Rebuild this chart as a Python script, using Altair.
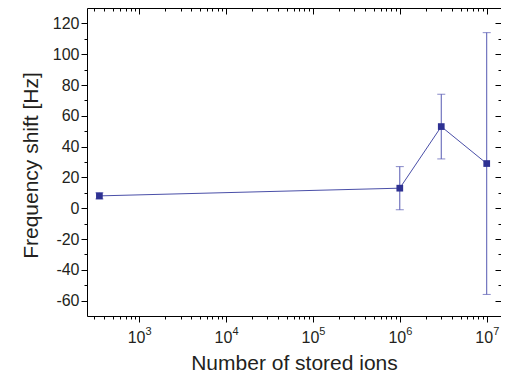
import altair as alt
import pandas as pd

# ---- data ----
ions = [350, 1.0e6, 3.0e6, 1.0e7]
shift = [8, 13, 53, 29]
err = [2, 14, 21, 85]

x_major = [1e3, 1e4, 1e5, 1e6, 1e7]
x_minor = [m * 10 ** k for k in range(2, 7) for m in range(2, 10) if 250 <= m * 10 ** k <= 1.46e7]
y_major = list(range(-60, 121, 20))
y_minor = list(range(-60, 121, 10))

df = pd.DataFrame({
    "n": ions,
    "f": shift,
    "lo": [s - e for s, e in zip(shift, err)],
    "hi": [s + e for s, e in zip(shift, err)],
})

FONT = "Liberation Sans"
TXT = "#231f20"
MARK = "#2e3192"
LINE = "#4a4fa8"
ERR = "#5559b2"

xs = alt.Scale(type="log", domain=[252, 1.46e7])
ys = alt.Scale(domain=[-70, 130])

base = alt.Chart(df)


def hidden(xaxis, yaxis):
    return base.mark_point(opacity=0).encode(
        x=alt.X("n:Q", scale=xs, axis=xaxis),
        y=alt.Y("f:Q", scale=ys, axis=yaxis),
    )


noax = dict(labels=False, title=None, domain=False, grid=False)

line = base.mark_line(color=LINE, strokeWidth=1).encode(
    x=alt.X("n:Q", scale=xs, axis=alt.Axis(
        orient="bottom", values=x_major, labelExpr="'10'", title="Number of stored ions",
        tickSize=6, labelPadding=7, labelFontSize=16, labelOffset=-3,
        titleFontSize=21, titleFontWeight="normal", titleBaseline="alphabetic",
        titleY=53, titleAnchor="middle")),
    y=alt.Y("f:Q", scale=ys, axis=alt.Axis(
        orient="left", values=y_major, labelExpr="'' + datum.value", title="Frequency shift [Hz]",
        tickSize=6, labelPadding=2, labelFontSize=16,
        titleFontSize=21, titleFontWeight="normal", titleBaseline="alphabetic",
        titleX=-50, titleY=157, titleAngle=270)),
)

errbar = base.mark_rule(color=ERR, strokeWidth=1).encode(
    x=alt.X("n:Q", scale=xs, axis=None),
    y=alt.Y("lo:Q", scale=ys, axis=None),
    y2="hi:Q",
)
cap_hi = base.mark_tick(orient="horizontal", size=8, thickness=1, color=ERR).encode(
    x=alt.X("n:Q", scale=xs, axis=None),
    y=alt.Y("hi:Q", scale=ys, axis=None),
)
cap_lo = base.mark_tick(orient="horizontal", size=8, thickness=1, color=ERR).encode(
    x=alt.X("n:Q", scale=xs, axis=None),
    y=alt.Y("lo:Q", scale=ys, axis=None),
)
pts = base.mark_square(size=45, color=MARK, opacity=1).encode(
    x=alt.X("n:Q", scale=xs, axis=None),
    y=alt.Y("f:Q", scale=ys, axis=None),
)

# minor ticks bottom/left (outward)
minor_bl = hidden(
    alt.Axis(orient="bottom", values=x_minor, tickSize=3, **noax),
    alt.Axis(orient="left", values=y_minor, tickSize=3, **noax),
)
# major ticks top/right (inward)
major_tr = hidden(
    alt.Axis(orient="top", values=x_major, tickSize=6, offset=-6, **noax),
    alt.Axis(orient="right", values=y_major, tickSize=6, offset=-6, **noax),
)
# minor ticks top/right (inward)
minor_tr = hidden(
    alt.Axis(orient="top", values=x_minor, tickSize=3, offset=-3, **noax),
    alt.Axis(orient="right", values=y_minor, tickSize=3, offset=-3, **noax),
)
# exponent labels
expo = hidden(
    alt.Axis(orient="bottom", values=x_major, ticks=False, domain=False, grid=False, title=None,
             labelExpr="'' + round(log(datum.value) / LN10)", labelFontSize=11,
             labelPadding=9, labelOffset=9),
    None,
)

chart = alt.layer(line, errbar, cap_hi, cap_lo, pts, minor_bl, major_tr, minor_tr, expo).resolve_axis(
    x="independent", y="independent"
).properties(
    width=414, height=308,
    autosize=alt.AutoSizeParams(type="none"),
    padding={"left": 79, "top": 0, "right": 0, "bottom": 58},
).configure_view(
    stroke="black", strokeWidth=1
).configure_axis(
    labelFont=FONT, titleFont=FONT, labelColor=TXT, titleColor=TXT,
    tickColor="black", tickWidth=1, grid=False, domain=False,
)

chart.save("out.html", embed_options={"renderer": "svg", "actions": False})
